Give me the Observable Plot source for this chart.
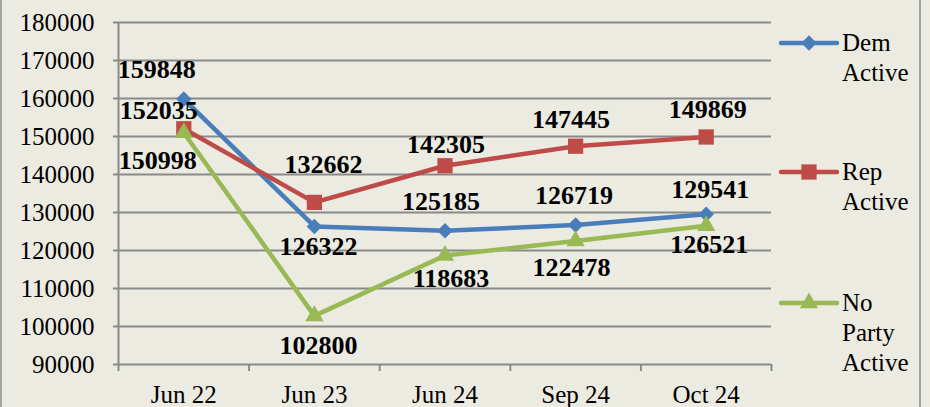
<!DOCTYPE html>
<html>
<head>
<meta charset="utf-8">
<script src="https://cdn.jsdelivr.net/npm/d3@7"></script>
<script src="https://cdn.jsdelivr.net/npm/@observablehq/plot@0.6"></script>
<style>
  html, body { margin: 0; padding: 0; background: #ECEBE1; }
  #wrap { position: relative; width: 930px; height: 407px; overflow: hidden; font-family: "Liberation Serif", "Times New Roman", serif; }
  #frame { position: absolute; left: 0; top: -10px; width: 917px; height: 430px; border: 2px solid #A4A4A4; }
  #chart { position: absolute; left: 0; top: 0; }
  .leg-sw { position: absolute; }
  .leg-tx { position: absolute; font-size: 25px; line-height: 30px; color: #000; white-space: nowrap; }
</style>
</head>
<body>
<div id="wrap">
  <div id="frame"></div>
  <div id="chart"></div>
</div>
<script>
// ---- data ----
const categories = ["Jun 22", "Jun 23", "Jun 24", "Sep 24", "Oct 24"];
const demActive = [159848, 126322, 125185, 126719, 129541];
const repActive = [152035, 132662, 142305, 147445, 149869];
const noPartyActive = [150998, 102800, 118683, 122478, 126521];
const seriesNames = ["Dem Active", "Rep Active", "No Party Active"];
const yTicks = [90000, 100000, 110000, 120000, 130000, 140000, 150000, 160000, 170000, 180000];

// ---- styling ----
const seriesValues = [demActive, repActive, noPartyActive];
const colors = ["#4A7EBB", "#BE4B48", "#98B954"];
const symbols = ["diamond2", "square", "triangle"];
const radii = [7, 8.6, 6.8];
const legendLines = [["Dem", "Active"], ["Rep", "Active"], ["No", "Party", "Active"]];
// label offsets (dx, dy) in pixels relative to each marker
const labelOffsets = [
  [[-27, -29], [4, 20], [-4, -29], [-1.5, -29], [4, -25]],
  [[-25, -18], [9, -38], [1, -21], [-4.5, -27], [1.5, -27]],
  [[-26, 28], [4, 30], [6, 23], [-4, 27], [3, 19]]
];
const grid = "#8A8A8A";

const rows = seriesNames.flatMap((name, s) =>
  seriesValues[s].map((v, i) => ({series: name, s, i, category: categories[i], value: v}))
);

const idx = d3.range(categories.length);
const bounds = d3.range(categories.length + 1).map(i => i - 0.5);

const marks = [
  Plot.ruleY(yTicks, {stroke: grid, strokeWidth: 2}),
  Plot.ruleX([-0.5], {y1: yTicks[0], y2: yTicks[yTicks.length - 1], stroke: grid, strokeWidth: 2}),
  Plot.axisY(yTicks, {tickSize: 5, tickPadding: 19, stroke: grid, strokeWidth: 2, fill: "black", fontSize: 25, label: null, tickFormat: d => String(d)}),
  Plot.axisX(bounds, {tickSize: 7, tickFormat: () => "", stroke: grid, strokeWidth: 2, label: null}),
  Plot.axisX(idx, {tickSize: 0, tickPadding: 21, tickFormat: i => categories[i], fill: "black", fontSize: 25, label: null})
];

seriesNames.forEach((name, s) => {
  const data = rows.filter(r => r.s === s);
  marks.push(Plot.line(data, {x: "i", y: "value", stroke: colors[s], strokeWidth: 4.5, strokeLinejoin: "round", strokeLinecap: "round"}));
  marks.push(Plot.dot(data, {x: "i", y: "value", symbol: () => symbols[s], r: radii[s], fill: colors[s], stroke: "none"}));
});

rows.forEach(r => {
  const [dx, dy] = labelOffsets[r.s][r.i];
  marks.push(Plot.text([r], {x: "i", y: "value", text: d => String(d.value), dx, dy, fontWeight: "bold", fontSize: 26, fill: "black"}));
});

const chart = Plot.plot({
  width: 930,
  height: 407,
  marginLeft: 118,
  marginRight: 159,
  marginTop: 22,
  marginBottom: 43,
  x: {type: "linear", domain: [-0.5, categories.length - 0.5], axis: null},
  y: {type: "linear", domain: [yTicks[0], yTicks[yTicks.length - 1]], axis: null},
  symbol: {type: "identity"},
  style: {background: "transparent", fontFamily: "'Liberation Serif', 'Times New Roman', serif", fontSize: "25px", overflow: "visible"},
  marks
});
document.getElementById("chart").appendChild(chart);

// ---- legend (right side) ----
const wrap = document.getElementById("wrap");
const legendY = [43, 172, 303];
const symMap = {diamond2: d3.symbolDiamond2, square: d3.symbolSquare, triangle: d3.symbolTriangle};
seriesNames.forEach((name, s) => {
  const svg = d3.create("svg").attr("class", "leg-sw").attr("width", 62).attr("height", 24)
    .style("left", "778px").style("top", (legendY[s] - 12) + "px");
  svg.append("line").attr("x1", 3).attr("x2", 59).attr("y1", 12).attr("y2", 12)
    .attr("stroke", colors[s]).attr("stroke-width", 4.5).attr("stroke-linecap", "round");
  svg.append("path").attr("transform", "translate(31,12)")
    .attr("d", d3.symbol(symMap[symbols[s]], Math.PI * radii[s] * radii[s])())
    .attr("fill", colors[s]);
  wrap.appendChild(svg.node());
  const tx = document.createElement("div");
  tx.className = "leg-tx";
  tx.style.left = "842px";
  tx.style.top = (legendY[s] - 15) + "px";
  tx.innerHTML = legendLines[s].join("<br>");
  wrap.appendChild(tx);
});
</script>
</body>
</html>
